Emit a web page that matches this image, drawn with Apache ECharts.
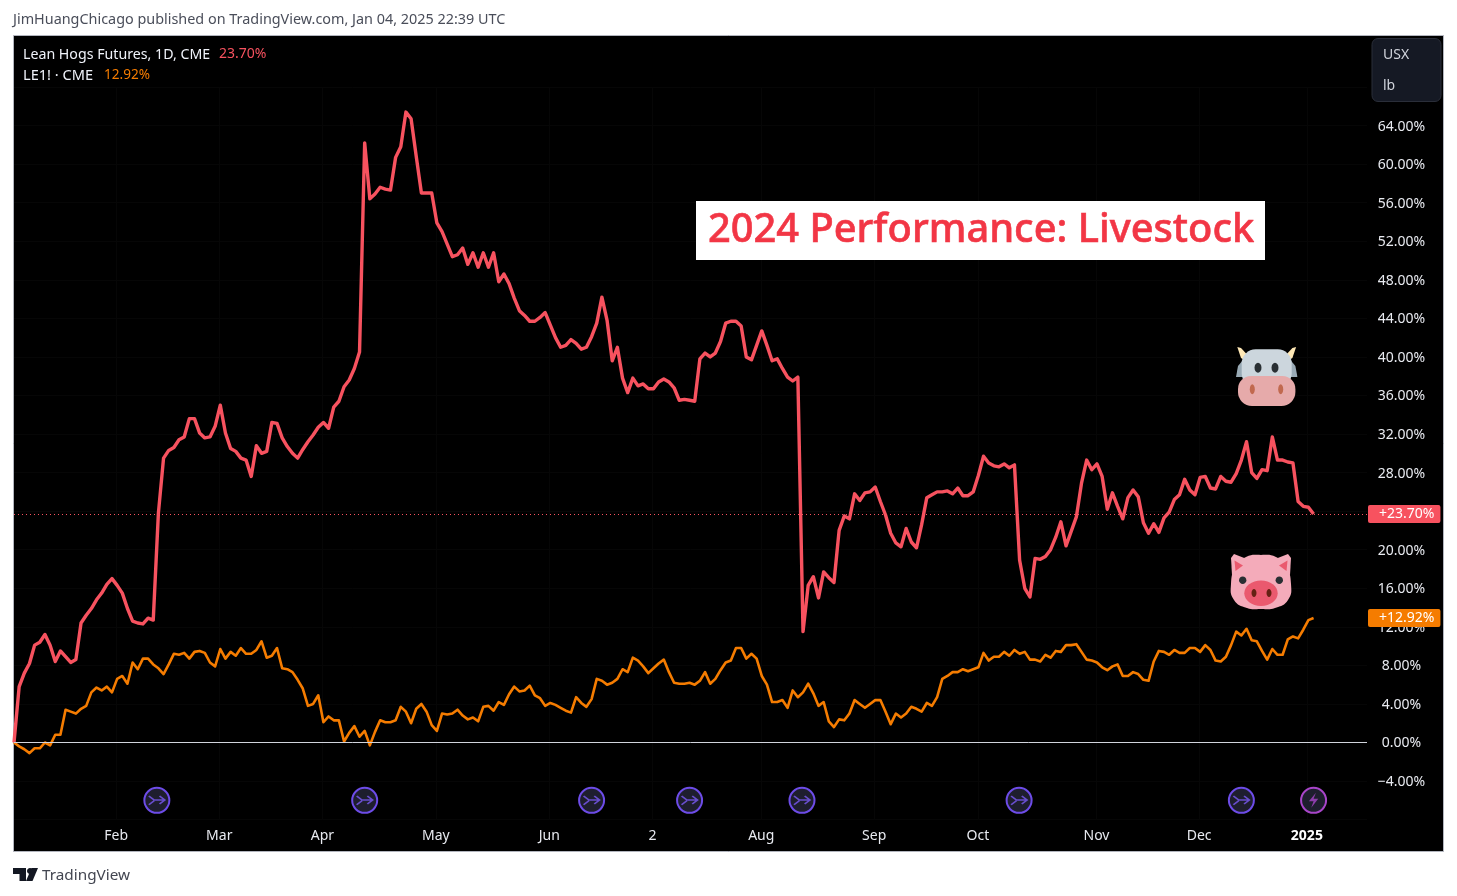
<!DOCTYPE html>
<html><head><meta charset="utf-8">
<style>html,body{margin:0;padding:0;background:#fff;overflow:hidden}#c{width:1457px;height:896px}</style>
<script src="https://cdn.jsdelivr.net/npm/echarts@6/dist/echarts.min.js"></script>
</head><body><div id="c"></div>
<script>
const hogs = [0,5.8,7.2,8.2,10.1,10.4,11.2,10.1,8.4,9.5,8.9,8.3,8.6,12.4,13.2,13.9,14.8,15.5,16.4,17.0,
16.3,15.5,13.9,12.6,12.4,12.3,12.9,12.7,23.8,29.5,30.3,30.6,31.4,31.7,33.6,33.6,32.1,31.6,31.7,32.8,
35.0,32.1,30.5,30.2,29.5,29.3,27.6,30.8,30.0,30.2,33.2,33.1,31.6,30.7,30.0,29.5,30.4,31.2,31.9,32.7,
33.2,32.6,34.8,35.4,36.9,37.6,38.8,40.5,62.2,56.4,56.9,57.6,57.4,57.3,60.7,61.8,65.4,64.7,60.8,57.0,
57.0,57.0,53.9,53.0,51.7,50.4,50.6,51.3,49.6,50.8,49.3,50.8,49.3,50.8,47.8,48.6,47.6,46.1,44.8,44.3,
43.7,43.7,44.1,44.6,43.3,42.0,41.0,41.2,41.8,41.4,40.8,41.0,42.1,43.5,46.2,43.8,39.6,41.0,37.8,36.3,
37.8,37.0,37.2,36.7,36.7,37.4,37.7,37.4,36.8,35.5,35.6,35.5,35.4,39.8,40.4,40.0,40.4,41.6,43.5,43.7,
43.7,43.2,40.0,39.7,41.2,42.7,41.2,39.6,39.8,38.8,37.9,37.5,37.9,11.5,16.3,17.2,15.0,17.7,17.1,16.6,
22.0,23.5,23.2,25.8,25.1,25.9,26.0,26.5,25.0,23.6,21.7,20.7,20.3,22.2,20.8,20.2,22.6,25.4,25.7,26.0,
26.0,26.1,25.8,26.4,25.6,25.6,26.0,27.7,29.7,29.0,28.7,28.6,28.9,28.5,28.8,18.9,16.0,15.1,19.1,19.0,
19.3,20.0,21.3,22.9,20.4,21.9,23.4,26.9,29.3,28.3,28.9,27.6,24.2,25.9,24.5,23.2,25.4,26.2,25.5,22.8,
21.7,22.7,21.8,23.3,23.9,25.2,25.7,27.3,26.2,25.7,27.5,27.6,26.4,26.3,27.6,27.1,27.0,27.9,29.3,31.2,
28.0,27.4,28.3,28.2,31.7,29.3,29.3,29.1,29.0,25.0,24.5,24.4,23.7];
const cattle = [0,-0.4,-0.7,-1.1,-0.6,-0.6,0,-0.3,0.8,0.8,3.4,3.2,3.0,3.5,3.8,5.2,5.7,5.4,5.8,5.2,
6.6,6.9,6.1,8.3,7.6,8.7,8.7,8.1,7.7,7.1,8.1,9.2,9.1,9.3,8.7,9.4,9.5,9.3,8.3,7.9,
9.7,8.7,9.4,9.0,9.8,9.2,9.2,9.6,10.5,8.8,9.0,9.8,7.7,7.6,7.3,6.5,5.6,3.8,4.0,4.9,
2.1,2.7,2.3,2.3,0.1,1.0,1.7,0.6,1.2,-0.3,1.1,2.3,2.1,2.1,2.3,3.7,3.2,2.0,3.5,4.0,
3.2,1.8,1.2,3.0,2.9,3.0,3.4,2.8,2.4,2.6,2.2,3.7,3.8,3.3,4.2,3.9,5.0,5.8,5.3,5.4,
5.9,4.9,4.6,3.8,4.1,3.9,3.6,3.3,3.1,4.7,4.1,3.7,4.5,6.6,6.4,6.0,6.2,6.6,7.6,7.3,
8.8,8.5,7.9,7.2,7.7,8.2,8.6,7.3,6.2,6.1,6.1,6.2,6.0,6.4,7.3,6.1,6.6,7.5,8.3,8.5,
9.8,9.8,8.7,9.2,8.7,6.9,6.0,4.2,4.2,4.4,3.6,5.4,4.7,5.2,6.1,5.1,3.8,4.2,2.2,1.6,
2.4,2.3,3.0,4.4,4.0,3.6,4.0,4.4,4.4,3.2,1.9,3.0,2.6,3.0,3.7,3.5,3.2,4.1,3.8,4.7,
6.6,6.9,7.3,7.3,7.6,7.4,7.6,7.8,9.3,8.5,8.9,8.9,9.4,9.0,9.6,9.2,9.4,8.6,8.6,8.4,
9.1,8.8,9.5,9.4,10.1,10.1,10.2,9.4,8.6,8.5,8.3,7.8,7.5,7.9,8.1,6.9,6.9,7.3,7.1,6.5,
6.4,8.4,9.5,9.4,9.1,9.6,9.3,9.3,9.8,9.8,9.4,10.1,9.6,8.5,8.4,8.9,10.1,11.5,11.1,11.8,
10.6,10.5,9.5,8.6,9.7,9.1,9.1,10.7,11.0,10.8,11.7,12.7,12.92];
const monthLabels = ['Feb','Mar','Apr','May','Jun','2','Aug','Sep','Oct','Nov','Dec','2025'];
const monthIndex = [19.8,39.8,59.8,81.8,103.8,123.8,144.9,166.8,186.9,209.9,229.8,250.7];
const switchIndex = [27.7,68,112,131,152.8,194.9,238];
const boltIndex = [252];
const eventLevel = -6;
const lastHogs = 23.70, lastCattle = 12.92;

const RED='#F7525F', ORANGE='#F57C00', FONT='"Noto Sans",sans-serif';
const pts = a => a.map((v,i)=>[i,v]);
const T=(x,y,text,fill,size,extra)=>({type:'text',z:20,style:Object.assign({x,y,text,fill,font:`${size}px ${FONT}`,textVerticalAlign:'middle'},extra||{})});
const E=(cx,cy,rx,ry,fill)=>({type:'ellipse',z:20,shape:{cx,cy,rx,ry},style:{fill}});
const P=(points,fill,smooth)=>({type:'polygon',z:20,shape:{points,smooth:smooth||0},style:{fill}});
const mx=(p,c)=>p.map(q=>[2*c-q[0],q[1]]);

const pigEar=[[1232,575],[1231,558],[1234,554],[1252,561],[1240,572]];
const pigIn=[[1235.5,571],[1234.5,560.5],[1243,565.5]];
const horn=[[1237.3,347],[1241,348],[1247.5,355],[1246,361],[1241,358]];
const cowEar=[[1236,377],[1238,366],[1243,360],[1244,377]];
const pigHead=[[1261,555],[1276,557],[1286,566],[1291,584],[1288,600],[1275,608],[1261,609],[1247,608],[1234,600],[1231,584],[1236,566],[1246,557]];

const chart=echarts.init(document.getElementById('c'),null,{renderer:'canvas'});
chart.setOption({
  animation:false,
  backgroundColor:'#ffffff',
  textStyle:{fontFamily:FONT},
  graphic:{elements:[
    {type:'rect',z:-1,shape:{x:13.5,y:35.5,width:1430,height:816},style:{fill:'#000',stroke:'#b2b5be',lineWidth:1}},
    T(13,20,'JimHuangChicago published on TradingView.com, Jan 04, 2025 22:39 UTC','#4a4e5a',14.4),
    T(23,54.5,'Lean Hogs Futures, 1D, CME','#f0f3fa',14.2),
    T(219,54.5,'23.70%',RED,14),
    T(23,75.5,'LE1! · CME','#f0f3fa',14.6),
    T(104,75.5,'12.92%',ORANGE,13.6),
    {type:'rect',z:20,shape:{x:1372,y:38.5,width:69,height:63,r:6},style:{fill:'#151924',stroke:'#2a2e39',lineWidth:1}},
    T(1383,55.5,'USX','#d1d4dc',14),
    T(1383,86.5,'lb','#d1d4dc',14),
    {type:'rect',z:20,shape:{x:696,y:201,width:569,height:59},style:{fill:'#fff'}},
    T(708,231,'2024 Performance: Livestock','#F23645',39.8,{font:`500 39.8px ${FONT}`,stroke:'#F23645',lineWidth:0.6}),
    // cow face
    P(horn,'#FFE8B6'),P(mx(horn,1266.7),'#FFE8B6'),
    P(cowEar,'#99AAB5'),P(mx(cowEar,1266.7),'#99AAB5'),
    {type:'rect',z:20,shape:{x:1241.7,y:349.3,width:50,height:38,r:14},style:{fill:'#CCD6DD'}},
    {type:'rect',z:20,shape:{x:1238,y:376,width:57.4,height:30,r:[13,13,14,14]},style:{fill:'#E6AAAA'}},
    E(1258,367.7,3.5,5,'#292F33'),E(1275,367.7,3.5,5,'#292F33'),
    E(1252.3,389.3,2.5,5,'#C1694F'),E(1280.7,389.3,2.5,5,'#C1694F'),
    // pig face
    P(pigEar,'#F4ABBA'),P(mx(pigEar,1261),'#F4ABBA'),
    P(pigHead,'#F4ABBA',0.5),
    P(pigIn,'#EA596E'),P(mx(pigIn,1261),'#EA596E'),
    E(1261,593.3,16.7,12.7,'#EA596E'),
    E(1254,593,2.5,4,'#662113'),E(1269,593,2.5,4,'#662113'),
    E(1242.7,580.3,3.7,3.7,'#292F33'),E(1279.3,580.3,3.7,3.7,'#292F33'),
    // TradingView logo
    P([[13,868],[26,868],[26,881],[19.5,881],[19.5,874],[13,874]],'#131722'),
    E(30,871,3,3,'#131722'),
    P([[31.5,868],[38,868],[32.5,881],[26,881]],'#131722'),
    T(42,875.5,'TradingView','#434651',15.3)
  ]},
  grid:{left:14,right:90,top:87,bottom:76.38,containLabel:false},
  xAxis:{type:'value',min:0,max:262.36,
    axisLine:{show:false},
    axisTick:{show:false,customValues:monthIndex},
    splitLine:{show:true,lineStyle:{color:'#060606',width:1}},
    axisLabel:{customValues:monthIndex,margin:9,color:'#e8eaf0',fontSize:14,fontFamily:FONT,
      formatter:v=>{const k=monthIndex.indexOf(v);const s=k<0?'':monthLabels[k];return s==='2025'?'{b|2025}':s;},
      rich:{b:{fontWeight:'bold',fontSize:14,color:'#fff',fontFamily:FONT}}}
  },
  yAxis:{type:'value',position:'right',min:-8,max:68,interval:4,
    axisLine:{show:false},axisTick:{show:false},
    splitLine:{show:true,lineStyle:{color:'#060606',width:1}},
    axisLabel:{margin:34.5,align:'center',verticalAlign:'top',lineHeight:2,color:'#e8eaf0',fontSize:14,fontFamily:FONT,
      formatter:v=>(v<-4||v>64)?'':(v<0?'\u2212':'')+Math.abs(v).toFixed(2)+'%'}
  },
  series:[
    {name:'LE1!',type:'line',data:pts(cattle),showSymbol:false,symbol:'none',smooth:false,z:3,
      lineStyle:{color:ORANGE,width:2.6,join:'round'},
      markLine:{silent:true,symbol:'none',animation:false,z:6,
        lineStyle:{color:'rgba(0,0,0,0)',width:0},
        label:{show:true,position:'end',distance:1,formatter:'+12.92%',color:'#fff',fontSize:14,fontFamily:FONT,backgroundColor:ORANGE,padding:[2,6,2,11],borderRadius:2},
        data:[{yAxis:lastCattle}]}},
    {name:'Lean Hogs',type:'line',data:pts(hogs),showSymbol:false,symbol:'none',smooth:false,z:4,
      lineStyle:{color:RED,width:3.4,join:'round'},
      markLine:{silent:true,symbol:'none',animation:false,z:6,
        lineStyle:{color:RED,width:1,type:[1,3]},
        label:{show:true,position:'end',distance:1,formatter:'+23.70%',color:'#fff',fontSize:14,fontFamily:FONT,backgroundColor:RED,padding:[2,6,2,11],borderRadius:2},
        data:[{yAxis:lastHogs}]}},
    {name:'zero',type:'line',data:[],z:2,
      markLine:{silent:true,symbol:'none',animation:false,lineStyle:{color:'#d1d4dc',width:1,type:'solid'},label:{show:false},data:[{yAxis:0}]}},
    {name:'switch',type:'scatter',data:switchIndex.map(i=>[i,eventLevel]),symbol:'circle',symbolSize:25,z:5,
      itemStyle:{color:'#1e1e2e',borderColor:'#6d4ce8',borderWidth:2,opacity:1}},
    {name:'switchGlyph',type:'scatter',data:switchIndex.map(i=>[i,eventLevel]),symbolKeepAspect:true,
      symbol:'path://M1 1 L7 7 L18 7 M13 1 L19 7 L13 13 M1 14 L7 8',symbolSize:[16,12],z:6,
      itemStyle:{color:'rgba(0,0,0,0)',borderColor:'#7a5af5',borderWidth:1.6}},
    {name:'bolt',type:'scatter',data:boltIndex.map(i=>[i,eventLevel]),symbol:'circle',symbolSize:25,z:5,
      itemStyle:{color:'#1e1e2e',borderColor:'#a845c9',borderWidth:2,opacity:1}},
    {name:'boltGlyph',type:'scatter',data:boltIndex.map(i=>[i,eventLevel]),symbolKeepAspect:true,
      symbol:'path://M10 0 L1 10 L7 10 L4 18 L13 7 L7 7 Z',symbolSize:[14,15],z:6,
      itemStyle:{color:'#a845c9'}}
  ]
});
</script></body></html>
